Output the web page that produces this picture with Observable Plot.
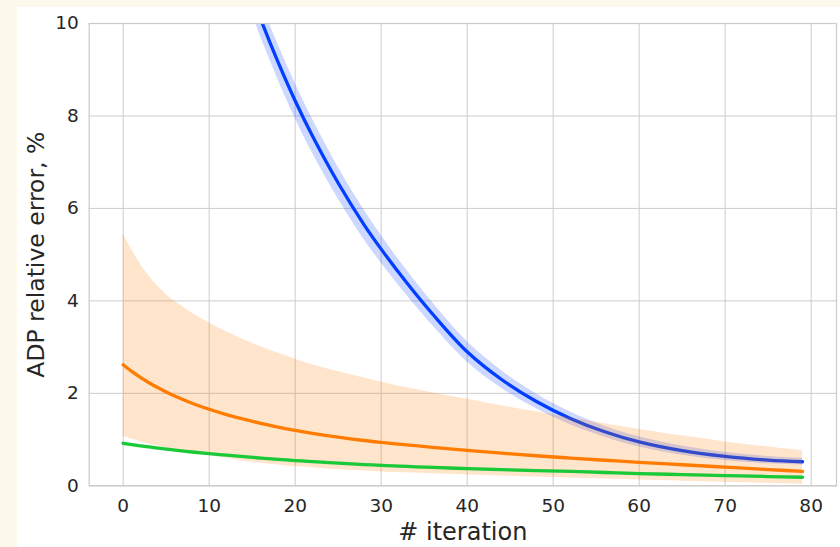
<!DOCTYPE html>
<html>
<head>
<meta charset="utf-8">
<script src="https://cdn.jsdelivr.net/npm/d3@7"></script>
<script src="https://cdn.jsdelivr.net/npm/@observablehq/plot@0.6"></script>
<style>
  html, body { margin: 0; padding: 0; background: #fcf8ec; width: 840px; height: 547px; overflow: hidden; }
  #panel { position: absolute; left: 17px; top: 7px; width: 823px; height: 540px; background: #ffffff; }
  #panel svg { display: block; font-family: "DejaVu Sans", sans-serif; color: #262626; }
</style>
</head>
<body>
<div id="panel"></div>
<script>
// iterations for orange and green series
const iters = [0,1,2,3,4,5,6,8,10,12,14,16,18,20,22,25,28,30,33,36,40,44,48,52,56,60,65,70,75,79];
const orangeMean = [2.62,2.475,2.345,2.23,2.125,2.03,1.943,1.787,1.655,1.541,1.441,1.351,1.271,1.199,1.135,1.051,0.98,0.94,0.885,0.83,0.765,0.705,0.65,0.6,0.553,0.508,0.455,0.403,0.352,0.312];
const orangeHi   = [5.45,5.1,4.8,4.54,4.32,4.14,3.99,3.74,3.52,3.33,3.16,3.01,2.87,2.74,2.62,2.47,2.33,2.24,2.12,2.01,1.87,1.73,1.6,1.47,1.34,1.22,1.08,0.95,0.84,0.76];
const orangeLo   = [1.07,1.01,0.955,0.905,0.86,0.82,0.783,0.715,0.655,0.6,0.53,0.49,0.45,0.415,0.39,0.35,0.318,0.3,0.28,0.26,0.235,0.212,0.19,0.168,0.146,0.125,0.1,0.075,0.052,0.035];
const greenMean  = [0.92,0.892,0.865,0.84,0.816,0.793,0.771,0.731,0.695,0.662,0.63,0.6,0.572,0.546,0.523,0.49,0.46,0.442,0.418,0.397,0.372,0.35,0.33,0.311,0.288,0.265,0.243,0.222,0.2,0.185];
const greenLo    = [0.895,0.867,0.84,0.815,0.791,0.768,0.746,0.706,0.67,0.637,0.605,0.575,0.547,0.521,0.498,0.465,0.435,0.417,0.393,0.372,0.347,0.325,0.305,0.286,0.263,0.24,0.218,0.197,0.175,0.16];
const greenHi    = [0.945,0.917,0.89,0.865,0.841,0.818,0.796,0.756,0.72,0.687,0.655,0.625,0.597,0.571,0.548,0.515,0.485,0.467,0.443,0.422,0.397,0.375,0.355,0.336,0.313,0.29,0.268,0.247,0.225,0.21];
// blue series (above 10 before iteration ~16, clipped by the frame)
const blueIters = [12,14,16,18,20,22,25,28,30,33,36,40,44,48,52,56,60,65,70,75,79];
const blueMean  = [12.17,11.09,10.09,9.17,8.33,7.57,6.55,5.65,5.12,4.385,3.71,2.9,2.3,1.83,1.458,1.17,0.95,0.76,0.635,0.555,0.52];
const blueLo    = [11.79,10.71,9.71,8.79,7.95,7.2,6.21,5.33,4.82,4.115,3.46,2.68,2.11,1.67,1.318,1.05,0.84,0.66,0.545,0.475,0.445];
const blueHi    = [12.55,11.47,10.47,9.55,8.71,7.94,6.89,5.97,5.42,4.655,3.96,3.12,2.49,1.99,1.598,1.29,1.06,0.86,0.725,0.635,0.595];
const xTicks = [0,10,20,30,40,50,60,70,80];
const yTicks = [0,2,4,6,8,10];
const xLabel = "# iteration";
const yLabel = "ADP relative error, %";
const colors = {blue: "#023eff", orange: "#ff7c00", green: "#1ac938"};

const og = iters.map((x, i) => ({x, m: orangeMean[i], lo: orangeLo[i], hi: orangeHi[i], gm: greenMean[i], glo: greenLo[i], ghi: greenHi[i]}));
const bl = blueIters.map((x, i) => ({x, m: blueMean[i], lo: blueLo[i], hi: blueHi[i]}));

const curve = "catmull-rom";
const chart = Plot.plot({
  width: 823,
  height: 540,
  marginLeft: 71.7,
  marginRight: 4,
  marginTop: 16,
  marginBottom: 61.7,
  style: {background: "transparent", fontFamily: "DejaVu Sans, sans-serif"},
  x: {domain: [-3.95, 82.95]},
  y: {domain: [0, 10]},
  marks: [
    Plot.gridX(xTicks, {stroke: "#cccccc", strokeOpacity: 1, strokeWidth: 1}),
    Plot.gridY(yTicks, {stroke: "#cccccc", strokeOpacity: 1, strokeWidth: 1}),
    Plot.areaY(bl, {x: "x", y1: "lo", y2: "hi", fill: colors.blue, fillOpacity: 0.2, curve, clip: true}),
    Plot.line(bl, {x: "x", y: "m", stroke: colors.blue, strokeWidth: 3.3, curve, clip: true}),
    Plot.areaY(og, {x: "x", y1: "lo", y2: "hi", fill: colors.orange, fillOpacity: 0.2, curve, clip: true}),
    Plot.line(og, {x: "x", y: "m", stroke: colors.orange, strokeWidth: 3.3, curve, clip: true}),
    Plot.areaY(og, {x: "x", y1: "glo", y2: "ghi", fill: colors.green, fillOpacity: 0.2, curve, clip: true}),
    Plot.line(og, {x: "x", y: "gm", stroke: colors.green, strokeWidth: 3.3, curve, clip: true}),
    Plot.frame({stroke: "#cccccc", strokeWidth: 1.25}),
    Plot.axisX(xTicks, {tickSize: 0, tickPadding: 13.5, fontSize: 18.5, label: null}),
    Plot.axisY(yTicks, {tickSize: 0, tickPadding: 10.5, fontSize: 18.5, label: null}),
    Plot.text([xLabel], {frameAnchor: "bottom", text: d => d, dy: 46.6, fontSize: 24, lineAnchor: "middle", textAnchor: "middle", fill: "#262626"}),
    Plot.text([yLabel], {frameAnchor: "left", text: d => d, dx: -53.1, rotate: -90, fontSize: 23.5, lineAnchor: "middle", textAnchor: "middle", fill: "#262626"})
  ]
});
document.getElementById("panel").appendChild(chart);
</script>
</body>
</html>
